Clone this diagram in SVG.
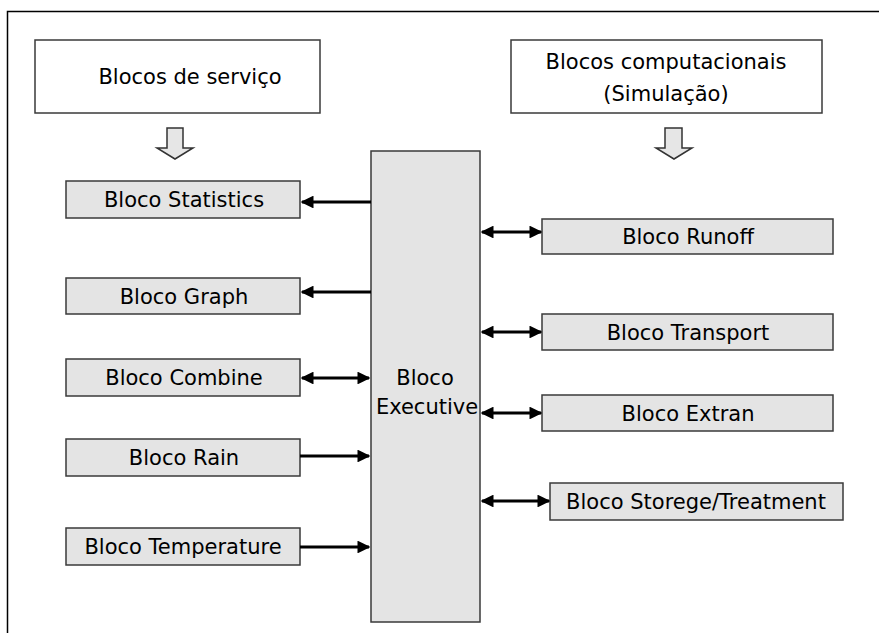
<svg xmlns="http://www.w3.org/2000/svg" width="879" height="633" viewBox="0 0 879 633">
<defs>
<style>
.box{fill:#e4e4e4;stroke:#3a3a3a;stroke-width:1.5}
.wbox{fill:#ffffff;stroke:#3a3a3a;stroke-width:1.5}
.t{font-family:"DejaVu Sans",Verdana,sans-serif;font-size:21px;fill:#000;text-anchor:middle}
.c{stroke:#000;stroke-width:3.2;fill:none}
.barrow{fill:#e6e6e6;stroke:#333;stroke-width:1.5}
</style>
<marker id="ah" viewBox="0 0 10 10" refX="9" refY="5" markerWidth="4" markerHeight="4" orient="auto-start-reverse" markerUnits="strokeWidth">
<path d="M0,0 L10,5 L0,10 Z" fill="#000"/>
</marker>
</defs>
<rect width="879" height="633" fill="#fff"/>
<path d="M7.5,633 V11.5 H879" fill="none" stroke="#000" stroke-width="1.5"/>

<g id="servico">
<rect class="wbox" x="35" y="40" width="285" height="73"/>
<text class="t" x="190" y="84">Blocos de serviço</text>
</g>
<g id="computacionais">
<rect class="wbox" x="511" y="40" width="311" height="73"/>
<text class="t" x="666" y="69">Blocos computacionais</text>
<text class="t" x="666" y="101">(Simulação)</text>
</g>
<g id="seta-servico">
<path class="barrow" d="M167,128 H183 V148 H193 L175,159 L157,148 H167 Z"/>
</g>
<g id="seta-comp">
<path class="barrow" d="M665,128 H682 V148 H692 L674,159 L656,148 H665 Z"/>
</g>

<g id="executive">
<rect class="box" x="371" y="151" width="109" height="471"/>
<text class="t" x="425" y="385">Bloco</text>
<text class="t" x="427" y="414">Executive</text>
</g>

<g id="statistics">
<rect class="box" x="66" y="181" width="234" height="37"/>
<text class="t" x="184" y="207">Bloco Statistics</text>
</g>
<g id="graph">
<rect class="box" x="66" y="278" width="234" height="36"/>
<text class="t" x="184" y="304">Bloco Graph</text>
</g>
<g id="combine">
<rect class="box" x="66" y="359" width="234" height="37"/>
<text class="t" x="184" y="385">Bloco Combine</text>
</g>
<g id="rain">
<rect class="box" x="66" y="439" width="234" height="37"/>
<text class="t" x="184" y="465">Bloco Rain</text>
</g>
<g id="temperature">
<rect class="box" x="66" y="528" width="234" height="37"/>
<text class="t" x="183" y="554">Bloco Temperature</text>
</g>

<g id="runoff">
<rect class="box" x="542" y="219" width="291" height="35"/>
<text class="t" x="688" y="244">Bloco Runoff</text>
</g>
<g id="transport">
<rect class="box" x="542" y="314" width="291" height="36"/>
<text class="t" x="688" y="340">Bloco Transport</text>
</g>
<g id="extran">
<rect class="box" x="542" y="395" width="291" height="36"/>
<text class="t" x="688" y="421">Bloco Extran</text>
</g>
<g id="storege">
<rect class="box" x="550" y="483" width="293" height="37"/>
<text class="t" x="696" y="509">Bloco Storege/Treatment</text>
</g>

<g id="connectors">
<line class="c" x1="371" y1="202" x2="302" y2="202" marker-end="url(#ah)"/>
<line class="c" x1="371" y1="292" x2="302" y2="292" marker-end="url(#ah)"/>
<line class="c" x1="302" y1="378" x2="369" y2="378" marker-start="url(#ah)" marker-end="url(#ah)"/>
<line class="c" x1="300" y1="456" x2="369" y2="456" marker-end="url(#ah)"/>
<line class="c" x1="300" y1="547" x2="369" y2="547" marker-end="url(#ah)"/>
<line class="c" x1="482" y1="232" x2="541" y2="232" marker-start="url(#ah)" marker-end="url(#ah)"/>
<line class="c" x1="482" y1="332" x2="541" y2="332" marker-start="url(#ah)" marker-end="url(#ah)"/>
<line class="c" x1="482" y1="413" x2="541" y2="413" marker-start="url(#ah)" marker-end="url(#ah)"/>
<line class="c" x1="482" y1="501" x2="549" y2="501" marker-start="url(#ah)" marker-end="url(#ah)"/>
</g>
</svg>
